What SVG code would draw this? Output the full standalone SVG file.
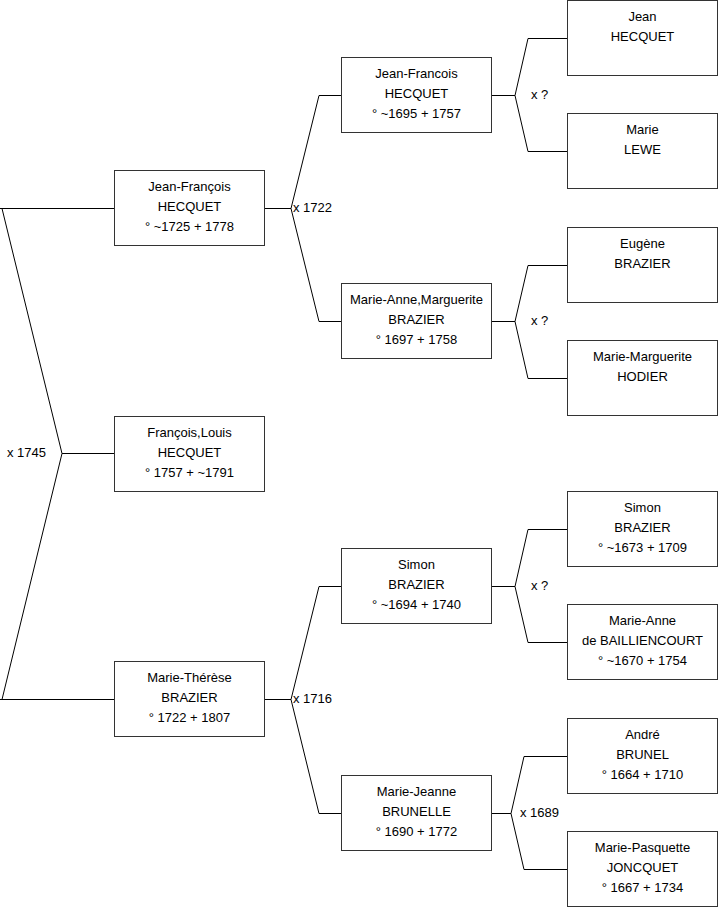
<svg xmlns="http://www.w3.org/2000/svg" width="719" height="908" viewBox="0 0 719 908">
<style>
.b{fill:#fff;stroke:#333;stroke-width:1}
.l{fill:none;stroke:#000;stroke-width:1}
text{font-family:"Liberation Sans",Arial,sans-serif;font-size:13px;fill:#000}
.c{text-anchor:middle}
</style>
<rect width="719" height="908" fill="#fff"/>
<g id="connectors">
<polyline class="l" points="0,208.5 114,208.5"/>
<polyline class="l" points="0,699.5 114,699.5"/>
<polyline class="l" points="2,208.5 62,453.5 2,699.5"/>
<polyline class="l" points="62,453.5 114,453.5"/>
<text x="7" y="457">x 1745</text>
<polyline class="l" points="264,208.5 291,208.5"/>
<polyline class="l" points="341,95.5 319,95.5 291,208.5 319,321.5 341,321.5"/>
<text x="293" y="212">x 1722</text>
<polyline class="l" points="264,699.5 291,699.5"/>
<polyline class="l" points="341,586.5 319,586.5 291,699.5 319,813.5 341,813.5"/>
<text x="293" y="703">x 1716</text>
<polyline class="l" points="491,95.5 515,95.5"/>
<polyline class="l" points="567,38.5 528,38.5 515,95.5 528,151.5 567,151.5"/>
<text x="531" y="99">x ?</text>
<polyline class="l" points="491,321.5 515,321.5"/>
<polyline class="l" points="567,265.5 528,265.5 515,321.5 528,378.5 567,378.5"/>
<text x="531" y="325">x ?</text>
<polyline class="l" points="491,586.5 515,586.5"/>
<polyline class="l" points="567,529.5 528,529.5 515,586.5 528,642.5 567,642.5"/>
<text x="531" y="590">x ?</text>
<polyline class="l" points="491,813.5 511,813.5"/>
<polyline class="l" points="567,756.5 524,756.5 511,813.5 524,869.5 567,869.5"/>
<text x="520" y="817">x 1689</text>
</g>
<g id="n1"><rect class="b" x="114.5" y="170.5" width="150" height="75"/>
<text class="c" x="189.5" y="191">Jean-François</text><text class="c" x="189.5" y="211">HECQUET</text><text class="c" x="189.5" y="231">° ~1725 + 1778</text></g>
<g id="n2"><rect class="b" x="114.5" y="416.5" width="150" height="75"/>
<text class="c" x="189.5" y="437">François,Louis</text><text class="c" x="189.5" y="457">HECQUET</text><text class="c" x="189.5" y="477">° 1757 + ~1791</text></g>
<g id="n3"><rect class="b" x="114.5" y="661.5" width="150" height="75"/>
<text class="c" x="189.5" y="682">Marie-Thérèse</text><text class="c" x="189.5" y="702">BRAZIER</text><text class="c" x="189.5" y="722">° 1722 + 1807</text></g>
<g id="n4"><rect class="b" x="341.5" y="57.5" width="150" height="75"/>
<text class="c" x="416.5" y="78">Jean-Francois</text><text class="c" x="416.5" y="98">HECQUET</text><text class="c" x="416.5" y="118">° ~1695 + 1757</text></g>
<g id="n5"><rect class="b" x="341.5" y="283.5" width="150" height="75"/>
<text class="c" x="416.5" y="304">Marie-Anne,Marguerite</text><text class="c" x="416.5" y="324">BRAZIER</text><text class="c" x="416.5" y="344">° 1697 + 1758</text></g>
<g id="n6"><rect class="b" x="341.5" y="548.5" width="150" height="75"/>
<text class="c" x="416.5" y="569">Simon</text><text class="c" x="416.5" y="589">BRAZIER</text><text class="c" x="416.5" y="609">° ~1694 + 1740</text></g>
<g id="n7"><rect class="b" x="341.5" y="775.5" width="150" height="75"/>
<text class="c" x="416.5" y="796">Marie-Jeanne</text><text class="c" x="416.5" y="816">BRUNELLE</text><text class="c" x="416.5" y="836">° 1690 + 1772</text></g>
<g id="n8"><rect class="b" x="567.5" y="0.5" width="150" height="75"/>
<text class="c" x="642.5" y="21">Jean</text><text class="c" x="642.5" y="41">HECQUET</text></g>
<g id="n9"><rect class="b" x="567.5" y="113.5" width="150" height="75"/>
<text class="c" x="642.5" y="134">Marie</text><text class="c" x="642.5" y="154">LEWE</text></g>
<g id="n10"><rect class="b" x="567.5" y="227.5" width="150" height="75"/>
<text class="c" x="642.5" y="248">Eugène</text><text class="c" x="642.5" y="268">BRAZIER</text></g>
<g id="n11"><rect class="b" x="567.5" y="340.5" width="150" height="75"/>
<text class="c" x="642.5" y="361">Marie-Marguerite</text><text class="c" x="642.5" y="381">HODIER</text></g>
<g id="n12"><rect class="b" x="567.5" y="491.5" width="150" height="75"/>
<text class="c" x="642.5" y="512">Simon</text><text class="c" x="642.5" y="532">BRAZIER</text><text class="c" x="642.5" y="552">° ~1673 + 1709</text></g>
<g id="n13"><rect class="b" x="567.5" y="604.5" width="150" height="75"/>
<text class="c" x="642.5" y="625">Marie-Anne</text><text class="c" x="642.5" y="645">de BAILLIENCOURT</text><text class="c" x="642.5" y="665">° ~1670 + 1754</text></g>
<g id="n14"><rect class="b" x="567.5" y="718.5" width="150" height="75"/>
<text class="c" x="642.5" y="739">André</text><text class="c" x="642.5" y="759">BRUNEL</text><text class="c" x="642.5" y="779">° 1664 + 1710</text></g>
<g id="n15"><rect class="b" x="567.5" y="831.5" width="150" height="75"/>
<text class="c" x="642.5" y="852">Marie-Pasquette</text><text class="c" x="642.5" y="872">JONCQUET</text><text class="c" x="642.5" y="892">° 1667 + 1734</text></g>
</svg>
